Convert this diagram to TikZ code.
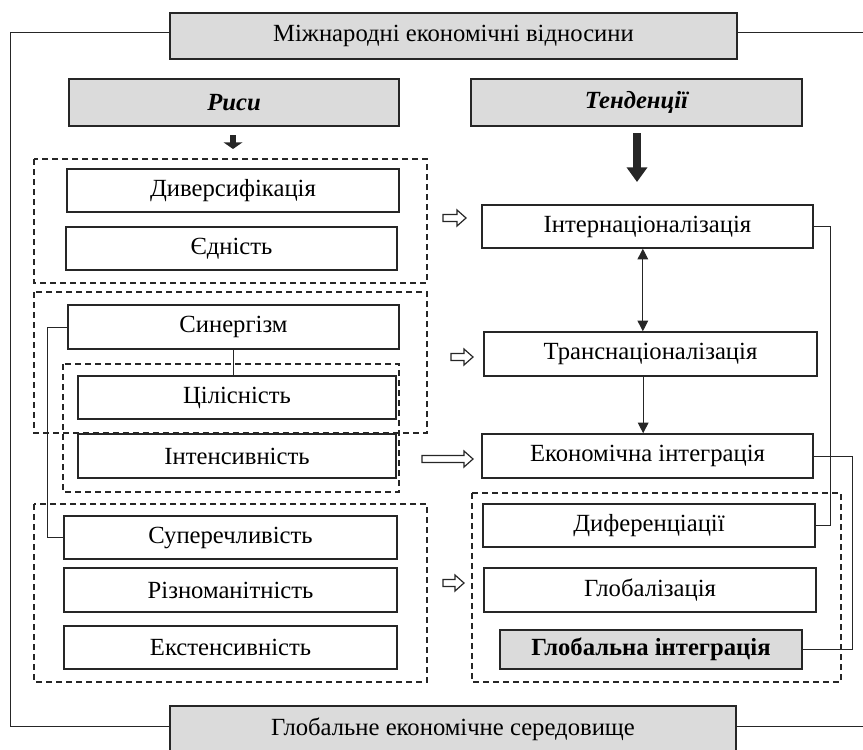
\documentclass[tikz,border=0pt]{standalone}
\usepackage{fontspec}
\setmainfont{Liberation Serif}
\usetikzlibrary{arrows.meta}
\tikzset{every path/.style={black!85, line width=0.75pt},
  every node/.style={font=\fontsize{18.5}{21}\selectfont, inner sep=0pt, text=black},
  box/.style 2 args={draw, line width=1.1pt, fill=white, minimum width=#1*0.75pt, minimum height=#2*0.75pt},
  shaded/.style={fill=black!14},
  group/.style={dash pattern=on 4.5pt off 3pt, line width=0.8pt},
  tip/.style={-{Triangle[length=8pt,width=8pt]}},
  pics/hollow/.style={code={\draw[line width=0.9pt] (0,-3.5) -- (#1-9,-3.5) -- (#1-9,-8) -- (#1,0) -- (#1-9,8) -- (#1-9,3.5) -- (0,3.5) -- cycle;}}}

\begin{document}
\begin{tikzpicture}[x=0.75pt, y=-0.75pt]
  \useasboundingbox (0,0) rectangle (863,749);
  % dashed groups
  \draw[group] (34,159) rectangle (427,283);
  \draw[group] (34,292) rectangle (427,433);
  \draw[group] (63,364) rectangle (399,492);
  \draw[group] (34,504) rectangle (427,682);
  \draw[group] (472,493) rectangle (841,682);
  % headers
  \node[box={567}{46}, shaded] (mev) at (453.5,36) {Міжнародні економічні відносини};
  \node[box={566}{47}, shaded] (ges) at (453,729.5) {Глобальне економічне середовище};
  \node[box={330}{47}, shaded, font=\fontsize{18.5}{21}\selectfont\bfseries\itshape] (rysy) at (234,102.5) {Риси};
  \node[box={331}{47}, shaded, font=\fontsize{18.5}{21}\selectfont\bfseries\itshape] (tend) at (636.5,102.5) {Тенденції};
  % features
  \node[box={332}{43}] (dyv) at (233,190.5) {Диверсифікація};
  \node[box={331}{43}] (yed) at (231.5,248.5) {Єдність};
  \node[box={331}{44}] (syn) at (233.5,327) {Синергізм};
  \node[box={318}{43}] (cil) at (237,397.5) {Цілісність};
  \node[box={318}{44}] (int) at (237,456) {Інтенсивність};
  \node[box={333}{43}] (sup) at (230.5,537.5) {Суперечливість};
  \node[box={333}{44}] (riz) at (230.5,590) {Різноманітність};
  \node[box={333}{43}] (ext) at (230.5,647.5) {Екстенсивність};
  % tendencies
  \node[box={331}{43}] (inter) at (647.5,226.5) {Інтернаціоналізація};
  \node[box={333}{44}] (trans) at (650.5,354) {Транснаціоналізація};
  \node[box={331}{44}] (econ) at (647.5,456) {Економічна інтеграція};
  \node[box={332}{43}] (dyf) at (649,525.5) {Диференціації};
  \node[box={332}{44}] (glob) at (650,590) {Глобалізація};
  \node[box={302}{39}, shaded, font=\fontsize{18.5}{21}\selectfont\bfseries] (gint) at (651,649.5) {Глобальна інтеграція};
  % frame lines
  \draw ([yshift=2.25pt]mev.west) -- ++(-159,0) |- ([yshift=1.9pt]ges.west);
  \draw ([yshift=2.25pt]mev.east) -- ++(126,0) coordinate (mevR);
  \draw ([yshift=1.9pt]ges.east) -- ++(127,0) coordinate (gesR);
  % links
  \draw (syn.west) -- ++(-20,0) |- (sup.west);
  \draw (syn.south) -- (syn.south |- cil.north);
  \draw (inter.east) -- ++(17,0) |- (dyf.east);
  \draw (econ.east) -- ++(39,0) |- (gint.east);
  \draw[{Triangle[length=8pt,width=8pt]}-{Triangle[length=8pt,width=8pt]}] ([xshift=-3.5pt]inter.south) -- ([xshift=-3.5pt]inter.south |- trans.north);
  \draw[tip] ([xshift=-5.5pt]trans.south) -- ([xshift=-5.5pt]trans.south |- econ.north);
  % arrows
  \coordinate (r1) at (233,135);
  \coordinate (r2) at (233,149);
  \draw[line width=5pt, -{Triangle[length=5pt,width=14pt]}] (r1) -- (r2);
  \coordinate (t1) at (637,133);
  \coordinate (t2) at (637,182);
  \draw[line width=6pt, -{Triangle[length=11pt,width=15pt]}] (t1) -- (t2);
  \pic at (443,218) {hollow=23};
  \pic at (451,357) {hollow=22};
  \pic at (422,459) {hollow=51};
  \pic at (443,583) {hollow=21};
\end{tikzpicture}
\end{document}
